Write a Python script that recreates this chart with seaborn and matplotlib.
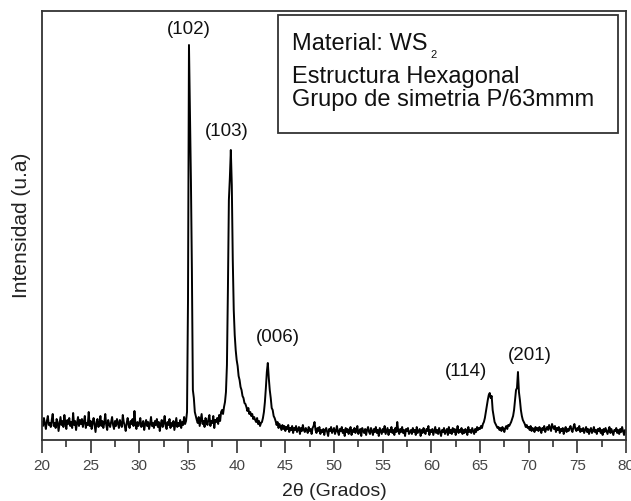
import numpy as np
import pandas as pd
import matplotlib
matplotlib.use("Agg")
import matplotlib.pyplot as plt
from matplotlib.patches import Rectangle
from matplotlib.ticker import MultipleLocator
import seaborn as sns

# 2theta sampling grid (degrees) and intensity (a.u.), 0.1 deg steps
two_theta = np.round(np.arange(20.0, 80.0001, 0.1), 1)
intensity_rows = [
    [18, 14, 22, 16, 11, 19, 24, 15, 17, 13],   # 20
    [20, 26, 14, 17, 12, 21, 18, 9, 16, 23],    # 21
    [15, 19, 13, 25, 17, 11, 20, 16, 22, 14],   # 22
    [18, 12, 27, 15, 19, 10, 17, 23, 14, 20],   # 23
    [16, 21, 13, 18, 24, 12, 17, 15, 28, 14],   # 24
    [19, 11, 17, 22, 15, 8, 18, 21, 13, 16],    # 25
    [24, 14, 19, 12, 17, 26, 15, 10, 20, 16],   # 26
    [13, 18, 23, 15, 11, 19, 14, 21, 17, 12],   # 27
    [20, 16, 13, 25, 18, 14, 9, 17, 22, 15],    # 28
    [12, 19, 16, 21, 14, 29, 16, 11, 18, 14],   # 29
    [17, 22, 13, 15, 19, 10, 16, 20, 14, 18],   # 30
    [11, 16, 23, 14, 17, 12, 19, 15, 21, 13],   # 31
    [18, 9, 16, 20, 13, 17, 24, 14, 11, 18],    # 32
    [15, 21, 12, 17, 14, 19, 10, 16, 22, 13],   # 33
    [17, 14, 20, 12, 18, 15, 23, 16, 19, 28],   # 34
    [140, 395, 330, 260, 170, 50, 42, 28, 24, 20],  # 35
    [17, 23, 14, 20, 26, 16, 19, 13, 22, 18],   # 36
    [15, 21, 25, 14, 19, 17, 24, 12, 20, 18],   # 37
    [22, 16, 25, 19, 28, 30, 26, 33, 38, 48],   # 38
    [75, 150, 240, 262, 290, 255, 180, 130, 105, 90],  # 39
    [80, 74, 64, 60, 53, 50, 44, 42, 37, 36],   # 40
    [33, 29, 32, 26, 28, 24, 26, 21, 23, 20],   # 41
    [18, 22, 16, 19, 14, 17, 18, 22, 28, 38],   # 42
    [52, 68, 77, 62, 50, 42, 32, 30, 24, 22],   # 43
    [19, 15, 18, 12, 16, 13, 10, 15, 11, 14],   # 44
    [9, 13, 11, 15, 8, 12, 10, 14, 7, 12],      # 45
    [10, 14, 8, 11, 13, 6, 12, 9, 15, 10],      # 46
    [8, 12, 10, 7, 13, 9, 11, 6, 12, 14],       # 47
    [18, 10, 7, 12, 9, 13, 6, 10, 8, 11],       # 48
    [5, 10, 12, 8, 4, 11, 9, 13, 7, 10],        # 49
    [12, 6, 9, 14, 8, 5, 11, 9, 13, 7],         # 50
    [10, 4, 12, 8, 11, 6, 9, 13, 5, 10],        # 51
    [8, 12, 7, 10, 14, 6, 9, 11, 4, 12],        # 52
    [9, 7, 11, 5, 10, 13, 8, 6, 12, 9],         # 53
    [5, 11, 8, 13, 7, 10, 4, 12, 9, 6],         # 54
    [11, 8, 14, 6, 9, 12, 5, 10, 8, 13],        # 55
    [7, 10, 5, 12, 8, 18, 9, 6, 11, 8],         # 56
    [13, 7, 10, 4, 11, 9, 12, 6, 8, 10],        # 57
    [6, 12, 8, 10, 5, 13, 7, 9, 11, 4],         # 58
    [10, 7, 12, 8, 6, 11, 9, 14, 5, 10],        # 59
    [8, 11, 5, 9, 13, 7, 10, 6, 12, 8],         # 60
    [4, 10, 8, 12, 6, 9, 11, 5, 13, 7],         # 61
    [10, 6, 12, 8, 11, 5, 9, 14, 7, 10],        # 62
    [8, 12, 6, 10, 7, 11, 9, 5, 13, 8],         # 63
    [10, 7, 12, 9, 6, 11, 8, 13, 10, 12],       # 64
    [11, 14, 12, 16, 18, 22, 28, 34, 40, 45],   # 65
    [47, 42, 44, 30, 24, 18, 16, 14, 12, 13],   # 66
    [10, 12, 9, 13, 11, 8, 12, 14, 11, 15],     # 67
    [14, 16, 18, 21, 24, 30, 40, 50, 52, 68],   # 68
    [48, 40, 30, 24, 20, 18, 16, 13, 15, 12],   # 69
    [13, 10, 14, 9, 12, 11, 8, 13, 10, 12],     # 70
    [9, 13, 11, 7, 12, 10, 14, 8, 11, 13],      # 71
    [10, 15, 12, 9, 16, 13, 11, 14, 8, 12],     # 72
    [10, 13, 7, 11, 9, 12, 6, 10, 13, 8],       # 73
    [11, 9, 12, 14, 10, 8, 13, 16, 11, 9],      # 74
    [12, 10, 14, 8, 11, 9, 12, 7, 10, 13],      # 75
    [8, 11, 6, 10, 12, 7, 9, 13, 8, 10],        # 76
    [6, 11, 9, 12, 7, 10, 5, 11, 8, 12],        # 77
    [9, 6, 10, 13, 7, 11, 8, 5, 10, 9],         # 78
    [12, 7, 10, 6, 11, 8, 13, 9, 5, 10],        # 79
    [8],                                        # 80
]
intensity = [v for row in intensity_rows for v in row]

peak_labels = ["(102)", "(103)", "(006)", "(114)", "(201)"]
peak_label_x = [35.1, 39.0, 44.2, 63.6, 70.1]
peak_label_y = [410, 308, 103, 69, 85]

x_ticks = [20, 25, 30, 35, 40, 45, 50, 55, 60, 65, 70, 75, 80]
x_label = "2θ (Grados)"
y_label = "Intensidad (u.a)"
info_lines = ["Material: WS", "Estructura Hexagonal", "Grupo de simetria P/63mmm"]

sns.set_style("white")
plt.rcParams["font.family"] = ["Liberation Sans", "DejaVu Sans"]

df = pd.DataFrame({"two_theta": two_theta, "intensity": intensity})

fig = plt.figure(figsize=(6.31, 5.01), dpi=100)
ax = fig.add_axes([42 / 631, 61 / 501, 584 / 631, 429 / 501])
sns.lineplot(data=df, x="two_theta", y="intensity", ax=ax, color="black",
             linewidth=1.4, estimator=None, sort=False)

ax.set_xlim(20, 80)
ax.set_ylim(0, 429)
ax.set_xticks(x_ticks)
ax.set_xticklabels([str(t) for t in x_ticks], fontsize=11, color="#444444")
ax.xaxis.set_minor_locator(MultipleLocator(2.5))
ax.tick_params(axis="x", which="major", direction="out", length=9, width=1.2,
               bottom=True, top=False, color="#333333", pad=5)
ax.tick_params(axis="x", which="minor", direction="out", length=5, width=1.2,
               bottom=True, top=False, color="#333333")
ax.set_yticks([])
ax.set_xlabel(x_label, fontsize=14, color="#222222", labelpad=7)
ax.set_ylabel(y_label, fontsize=15, color="#222222", labelpad=8)
for s in ax.spines.values():
    s.set_visible(True)
    s.set_color("#333333")
    s.set_linewidth(1.3)

for lab, lx, ly in zip(peak_labels, peak_label_x, peak_label_y):
    ax.text(lx, ly, lab, ha="center", va="center", fontsize=13.5, color="#111111")

# info box
ax.add_patch(Rectangle((0.404, 0.716), 0.582, 0.275, transform=ax.transAxes,
                       fill=False, edgecolor="#333333", linewidth=1.3))
tx = (292 - 42) / 584
base_px = [50, 83, 106]
for line, bp in zip(info_lines, base_px):
    ax.text(tx, (440 - bp) / 429, line, transform=ax.transAxes, fontsize=17,
            ha="left", va="baseline", color="#111111")
ax.text((430 - 42) / 584, (440 - 58) / 429, "2", transform=ax.transAxes,
        fontsize=8, ha="left", va="baseline", color="#111111")

fig.savefig("out.png", dpi=100)
